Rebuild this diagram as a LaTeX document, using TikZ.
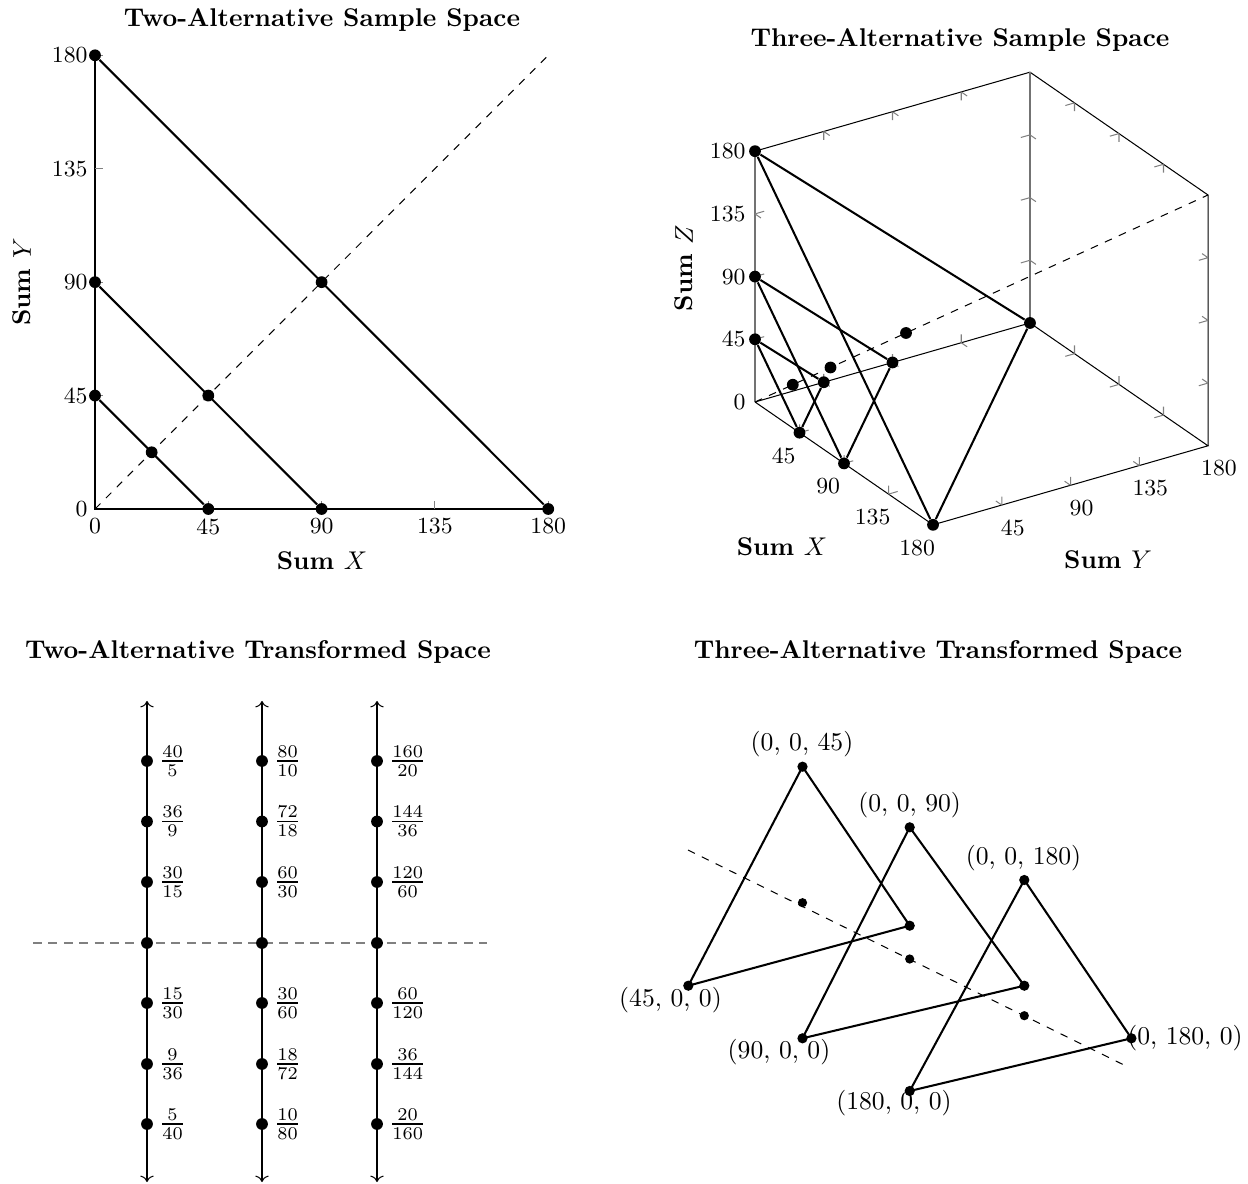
\documentclass[tikz,border=0pt]{standalone}
\usepackage{amsmath}
\usetikzlibrary{arrows.meta,positioning}

\begin{document}
\begin{tikzpicture}[
    x=0.39pt, y=-0.39pt,
    % --- Node styles ---
    dot/.style={circle, fill=black, inner sep=0pt, minimum size=4.6pt},
    smalldot/.style={dot, minimum size=3.6pt},
    plottitle/.style={font=\bfseries},
    axislab/.style={font=\bfseries},
    ticklab/.style={font=\small, inner sep=0pt},
    fraclab/.style={anchor=west, inner sep=1pt, xshift=3.6pt},
    coordlab/.style={inner sep=0pt},
    % --- Line styles ---
    frame/.style={draw, thin},
    backframe/.style={draw, thin, black!55},
    tickmark/.style={draw, gray, thin},
    seg/.style={draw, thick},
    diag/.style={draw, thin, dashed},
    zeroline/.style={draw, gray, line width=0.8pt, dash pattern=on 3.5pt off 2.5pt},
]

\useasboundingbox (0,0) rectangle (1248,1184);

% === Two-alternative sample space ===
\node[plottitle] (t1) at (322,20) {Two-Alternative Sample Space};
\coordinate (o2) at (95,509);
\begin{scope}[shift={(o2)}, x=0.982pt, y=0.983pt]
  \coordinate (ax2) at (180,0);
  \coordinate (ay2) at (0,180);
  \coordinate (d2) at (180,180);
  \draw[frame] (ay2) -- (0,0) -- (ax2);
  \foreach \t in {45,90,135,180} {
    \draw[tickmark] (\t,0) -- ++(0,3.2);
    \draw[tickmark] (0,\t) -- ++(3.2,0);
  }
  \foreach \t in {0,45,90,135,180} {
    \node[ticklab, below=3.5pt] at (\t,0) {\t};
    \node[ticklab, left=2.7pt] at (0,\t) {\t};
  }
  \draw[diag] (0,0) -- (d2);
  % points and level lines
  \foreach \v in {45,90,180} {
    \pgfmathsetmacro\h{\v/2}
    \node[dot] (x\v) at (\v,0) {};
    \node[dot] (y\v) at (0,\v) {};
    \node[dot] (m\v) at (\h,\h) {};
    \draw[seg] (y\v) -- (x\v);
  }
\end{scope}
\node[axislab] (sx2) at (322,561) {Sum $X$};
\node[axislab, rotate=90] (sy2) at (22,282) {Sum $Y$};

% === Three-alternative sample space ===
\node[plottitle] (t2) at (960,40) {Three-Alternative Sample Space};
\coordinate (o3) at (755,402);
\begin{scope}[shift={(o3)}, x={(0.3857pt,-0.2661pt)}, y={(0.5958pt,0.1712pt)}, z={(0pt,0.5434pt)}]
  % box corners
  \coordinate (c000) at (0,0,0);
  \coordinate (c100) at (180,0,0);
  \coordinate (c010) at (0,180,0);
  \coordinate (c110) at (180,180,0);
  \coordinate (c001) at (0,0,180);
  \coordinate (c011) at (0,180,180);
  \coordinate (c111) at (180,180,180);
  \draw[frame] (c000) -- (c100) -- (c110) -- (c010) -- (c000);
  \draw[frame] (c001) -- (c011) -- (c111) -- (c110);
  \draw[backframe] (c000) -- (c001);
  \draw[backframe] (c010) -- (c011);
  % ticks
  \foreach \t in {45,90,135} {
    \draw[tickmark] (\t,0,0) -- ++(0,6,0) (\t,0,0) -- ++(0,0,6);
    \draw[tickmark] (\t,180,0) -- ++(0,-6,0) (\t,180,0) -- ++(0,0,6);
    \draw[tickmark] (\t,180,180) -- ++(0,-6,0) (\t,180,180) -- ++(0,0,-6);
    \draw[tickmark] (0,\t,0) -- ++(6,0,0) (0,\t,0) -- ++(0,0,6);
    \draw[tickmark] (180,\t,0) -- ++(-6,0,0) (180,\t,0) -- ++(0,0,6);
    \draw[tickmark] (0,\t,180) -- ++(6,0,0) (0,\t,180) -- ++(0,0,-6);
    \draw[tickmark] (0,0,\t) -- ++(6,0,0) (0,0,\t) -- ++(0,6,0);
    \draw[tickmark] (0,180,\t) -- ++(6,0,0) (0,180,\t) -- ++(0,-6,0);
    \draw[tickmark] (180,180,\t) -- ++(-6,0,0) (180,180,\t) -- ++(0,-6,0);
  }
  % tick labels
  \foreach \t in {0,45,90,135,180}
    \node[ticklab, left=3.5pt] at (0,0,\t) {\t};
  \foreach \t in {45,90,135,180} {
    \node[ticklab, xshift=-6.2pt, yshift=-9pt] at (\t,0,0) {\t};
    \node[ticklab, xshift=4.3pt, yshift=-8.8pt] at (180,\t,0) {\t};
  }
  \draw[diag] (c000) -- (c111);
  % simplex slices and their centres
  \foreach \v in {45,90,180} {
    \pgfmathsetmacro\h{\v/3}
    \node[dot] (px\v) at (\v,0,0) {};
    \node[dot] (py\v) at (0,\v,0) {};
    \node[dot] (pz\v) at (0,0,\v) {};
    \node[dot] (pc\v) at (\h,\h,\h) {};
    \draw[seg] (px\v) -- (py\v) -- (pz\v) -- (px\v);
  }
\end{scope}
\node[axislab] (sx3) at (782,547) {Sum $X$};
\node[axislab] (sy3) at (1108,560) {Sum $Y$};
\node[axislab, rotate=90] (sz3) at (684,268) {Sum $Z$};

% === Two-alternative transformed space ===
\node[plottitle] (t3) at (258,652) {Two-Alternative Transformed Space};
\coordinate (zl) at (33,943);
\coordinate (zr) at (487,943);
\draw[zeroline] (zl) -- (zr);
\foreach \cx/\m [count=\col] in {147/1,262/2,377/4} {
  \coordinate (top\col) at (\cx,701);
  \coordinate (bot\col) at (\cx,1182);
  \draw[thin, <->] (bot\col) -- (top\col);
  \node[dot] (mid\col) at (\cx,943) {};
  \foreach \ry/\fn/\fd [count=\row] in {761/40/5, 821.5/36/9, 882/30/15, 1003/15/30, 1064/9/36, 1124/5/40} {
    \pgfmathtruncatemacro\nn{\fn*\m}
    \pgfmathtruncatemacro\dd{\fd*\m}
    \node[dot] (p\col-\row) at (\cx,\ry) {};
    \node[fraclab] at (p\col-\row.center) {$\frac{\nn}{\dd}$};
  }
  \draw[seg] (p\col-1.center) -- (p\col-6.center);
}

% === Three-alternative transformed space ===
\node[plottitle] (t4) at (938,652) {Three-Alternative Transformed Space};
\coordinate (dl) at (688,850);
\coordinate (dr) at (1128,1067);
\draw[diag] (dl) -- (dr);
% triangle corners: a = top, l = lower left, r = right
\foreach \n/\ax/\ay/\lx/\ly/\rx/\ry/\gx/\gy in {
    1/802.5/766.7/688.3/985.7/909.7/925.7/802.5/902.7,
    2/909.7/827.3/802.5/1038.3/1024.3/985.7/909.7/959,
    3/1024.3/880/909.7/1091/1131.4/1038.3/1024.3/1015.7} {
  \node[smalldot, minimum size=4pt] (a\n) at (\ax,\ay) {};
  \node[smalldot, minimum size=4pt] (l\n) at (\lx,\ly) {};
  \node[smalldot, minimum size=4pt] (r\n) at (\rx,\ry) {};
  \node[smalldot] (g\n) at (\gx,\gy) {};
  \draw[seg] (a\n.center) -- (l\n.center) -- (r\n.center) -- (a\n.center);
}
\node[coordlab] at (802,744) {(0, 0, 45)};
\node[coordlab] at (909.6,805) {(0, 0, 90)};
\node[coordlab] at (1023.5,858) {(0, 0, 180)};
\node[coordlab] at (670.5,1000) {(45, 0, 0)};
\node[coordlab] at (779,1051.7) {(90, 0, 0)};
\node[coordlab] at (894,1103) {(180, 0, 0)};
\node[coordlab] at (1185,1038) {(0, 180, 0)};

\end{tikzpicture}
\end{document}
